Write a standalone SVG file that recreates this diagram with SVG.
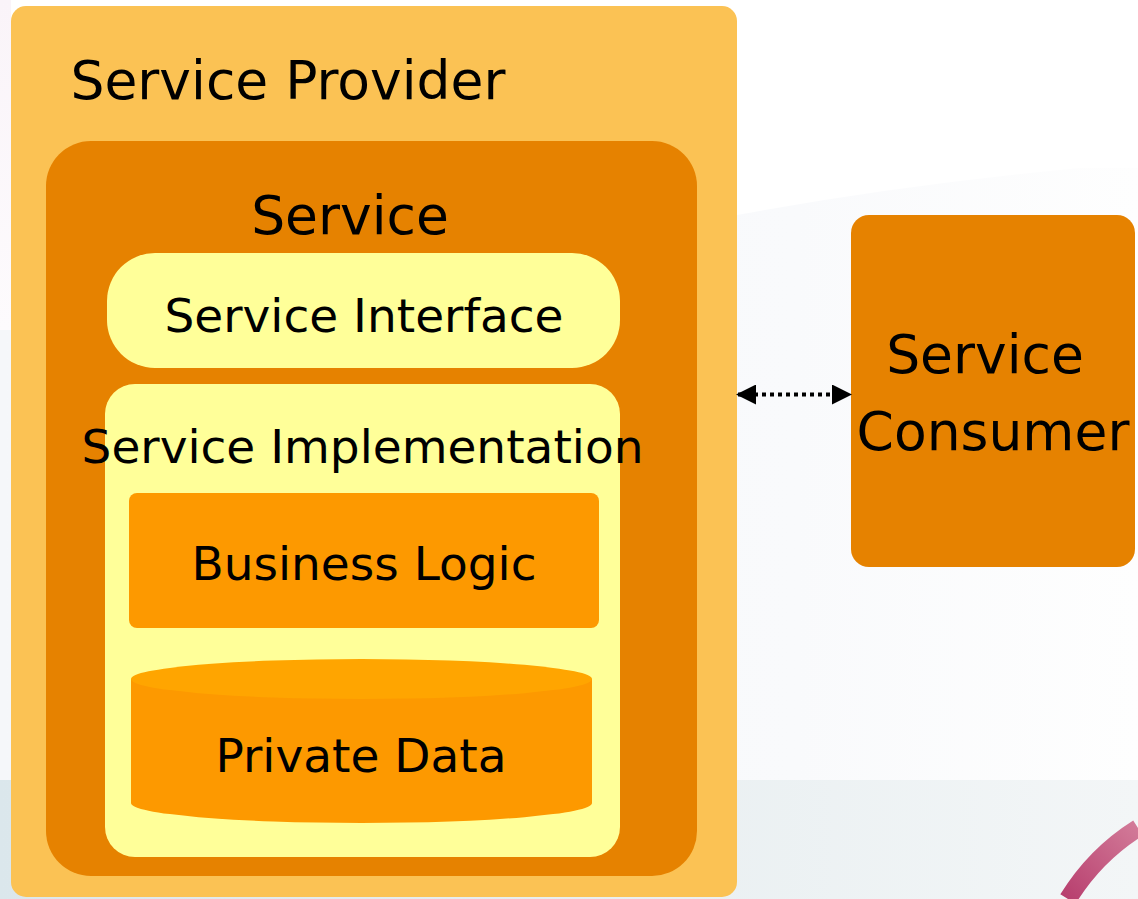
<svg xmlns="http://www.w3.org/2000/svg" width="1138" height="899" viewBox="0 0 1138 899">
  <defs>
    <style>
      text { font-family: "DejaVu Sans", "Liberation Sans", sans-serif; fill: #000000; text-anchor: middle; }
      .big { font-size: 53.5px; }
      .mid { font-size: 47px; }
    </style>
    <linearGradient id="band" x1="0" y1="0" x2="1" y2="0">
      <stop offset="0" stop-color="#dbe7ec"/>
      <stop offset="0.6" stop-color="#eaf0f2"/>
      <stop offset="1" stop-color="#f3f6f7"/>
    </linearGradient>
    <linearGradient id="soft" x1="0" y1="0" x2="1" y2="0">
      <stop offset="0" stop-color="#f5f7fa"/>
      <stop offset="0.7" stop-color="#f9fafc"/>
      <stop offset="1" stop-color="#fefefe"/>
    </linearGradient>
    <linearGradient id="pinkfade" x1="0" y1="0" x2="0" y2="1">
      <stop offset="0" stop-color="#faf4f9"/>
      <stop offset="1" stop-color="#fdfbfd"/>
    </linearGradient>
    <linearGradient id="arc" x1="0" y1="1" x2="1" y2="0">
      <stop offset="0" stop-color="#b8406f"/>
      <stop offset="1" stop-color="#d27a98"/>
    </linearGradient>
    <marker id="arrowEnd" viewBox="0 0 10 10" refX="9" refY="5" markerWidth="5" markerHeight="5" orient="auto" markerUnits="strokeWidth">
      <path d="M0,0 L10,5 L0,10 z" fill="#000000"/>
    </marker>
    <marker id="arrowStart" viewBox="0 0 10 10" refX="1" refY="5" markerWidth="5" markerHeight="5" orient="auto" markerUnits="strokeWidth">
      <path d="M10,0 L0,5 L10,10 z" fill="#000000"/>
    </marker>
  </defs>

  <!-- background -->
  <rect x="0" y="0" width="1138" height="899" fill="#ffffff"/>
  <path d="M0,260 Q400,225 737,215 Q900,185 1080,168 L1138,168 L1138,780 L0,780 Z" fill="url(#soft)"/>
  <rect x="0" y="780" width="1138" height="119" fill="url(#band)"/>
  <rect x="0" y="0" width="11" height="330" fill="url(#pinkfade)"/>
  <path d="M1068,899 Q1095,855 1138,828" fill="none" stroke="url(#arc)" stroke-width="18"/>

  <g id="service-provider">
    <rect x="11" y="6" width="726" height="891" rx="15" fill="#fbc254"/>
    <text class="big" x="288" y="99">Service Provider</text>
  </g>

  <g id="service">
    <rect x="46" y="141" width="651" height="735" rx="45" fill="#e68200"/>
    <text class="big" x="350" y="234">Service</text>
  </g>

  <g id="service-interface">
    <rect x="107" y="253" width="513" height="115" rx="48" fill="#ffff99"/>
    <text class="mid" x="364" y="332">Service Interface</text>
  </g>

  <g id="service-implementation">
    <rect x="105" y="384" width="515" height="473" rx="30" fill="#ffff99"/>
    <text class="mid" x="362.5" y="463">Service Implementation</text>
  </g>

  <g id="business-logic">
    <rect x="129" y="493" width="470" height="135" rx="8" fill="#fd9900"/>
    <text class="mid" x="364" y="580">Business Logic</text>
  </g>

  <g id="private-data">
    <path d="M131,679 L131,803 A230.5,20 0 0 0 592,803 L592,679 Z" fill="#fd9900"/>
    <ellipse cx="361.5" cy="679" rx="230.5" ry="20" fill="#ffa500"/>
    <text class="mid" x="361" y="772">Private Data</text>
  </g>

  <g id="service-consumer">
    <rect x="851" y="215" width="284" height="352" rx="18" fill="#e68200"/>
    <text class="big" x="985" y="373">Service</text>
    <text class="big" x="993" y="450">Consumer</text>
  </g>

  <g id="connectors">
    <line x1="738" y1="394.5" x2="850" y2="394.5" stroke="#000000" stroke-width="4" stroke-dasharray="4,4" marker-start="url(#arrowStart)" marker-end="url(#arrowEnd)"/>
  </g>
</svg>
